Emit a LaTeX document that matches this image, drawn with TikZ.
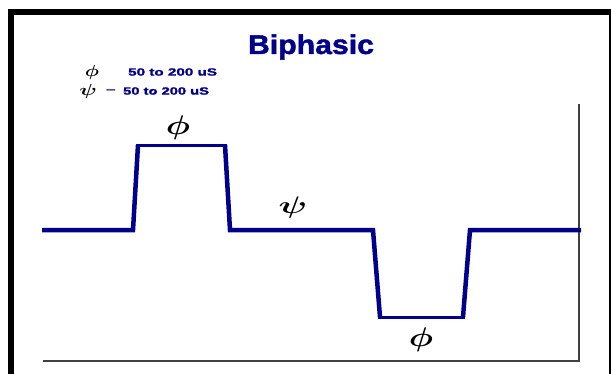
\documentclass[tikz,border=0pt]{standalone}
\usepackage{tikz}
\usepackage{xcolor}
\usepackage{amsmath}
\usepackage{bm}
\usepackage{fontspec}
\newfontfamily\heavyfont{Liberation Sans Bold}[FakeBold=1.5]
\usetikzlibrary{arrows.meta}
\definecolor{pulseblue}{RGB}{0,0,140}
\tikzset{%
  trace/.style={pulseblue, line width=4.5pt, line join=miter},
  flat/.style={pulseblue, line width=3pt},
  axisline/.style={black!75, line width=1.6pt},
  sym/.style={inner sep=0pt},
  keytext/.style={pulseblue, inner sep=0pt, anchor=west,
    font=\heavyfont\fontsize{10.5}{12}\selectfont}
}

\begin{document}
\begin{tikzpicture}[x=1pt,y=-1pt]
\clip (0,0) rectangle (611,373);
\fill[white] (0,0) rectangle (611,373);
\draw[line width=6pt] (11,12) rectangle (612,380);
% axes
\draw[axisline] (579,104) -- (579,361) -- (43,361);
% pulse train
\draw[trace] (42,230) -- (133,230) -- (138,145);
\draw[trace] (225,145) -- (230,230) -- (373,230) -- (380,317);
\draw[trace] (463,317) -- (470,230) -- (581,230);
\draw[flat] (136,145) -- (227,145);
\draw[flat] (378,317) -- (465,317);
% title and key
\node[pulseblue, font=\heavyfont\fontsize{27}{30}\selectfont] (title) at (311,47) {\scalebox{1.12}[1]{Biphasic}};
\node[sym] (phikey) at (92,72) {\scalebox{2}[1.6]{$\bm{\phi}$}};
\node[keytext] (phival) at (128,72) {\scalebox{1.45}[1]{50 to 200 uS}};
\node[sym] (psikey) at (88,91) {\scalebox{2.2}[1.6]{$\bm{\psi}$}};
\node[keytext] (psidash) at (106,91) {\scalebox{1.6}[1]{–}};
\node[keytext] (psival) at (123,91) {\scalebox{1.4}[1]{50 to 200 uS}};
% labels on the trace
\node[sym] (phiup) at (178,128) {\scalebox{3.4}[2.7]{$\bm{\phi}$}};
\node[sym] (psigap) at (293,207) {\scalebox{3.6}[2.4]{$\bm{\psi}$}};
\node[sym] (phidown) at (421,340) {\scalebox{3.4}[2.7]{$\bm{\phi}$}};
\end{tikzpicture}
\end{document}
